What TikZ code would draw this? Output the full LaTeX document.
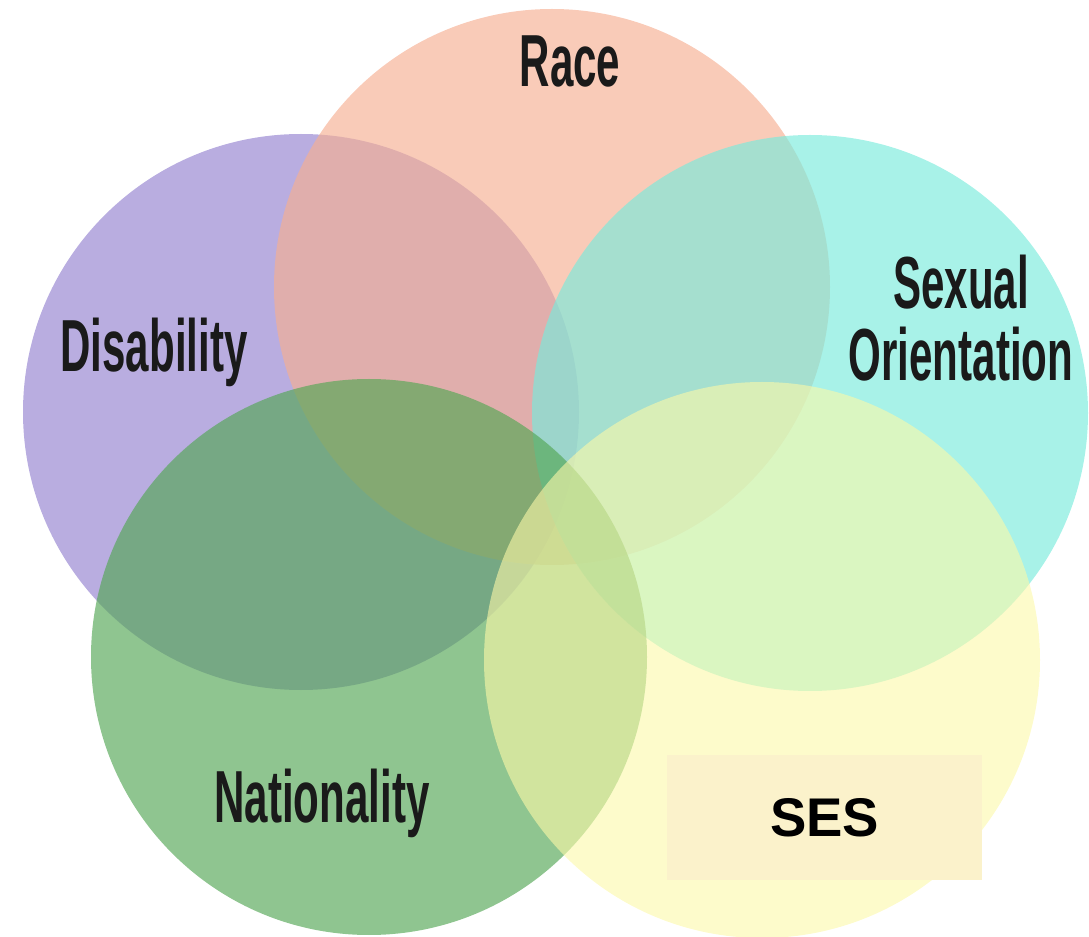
\documentclass[tikz,border=0pt]{standalone}
\usepackage{fontspec}
\usepackage{tikz}
\usetikzlibrary{positioning,shapes.geometric}
\newfontfamily\tallfont[FakeStretch=0.57]{Liberation Sans Bold}
\newfontfamily\sesfont{Liberation Sans Bold}
\definecolor{racecol}{RGB}{246,175,146}
\definecolor{disabcol}{RGB}{147,129,207}
\definecolor{sexcol}{RGB}{121,235,220}
\definecolor{natcol}{RGB}{83,166,84}
\definecolor{sescol}{RGB}{252,248,168}
\definecolor{boxcol}{RGB}{251,242,203}
\definecolor{inkcol}{RGB}{26,26,26}
\tikzset{
  blob/.style={
      circle,
      fill=#1,
      fill opacity=0.65,
      minimum size=11.12cm,
      inner sep=0pt,
  },
  tag/.style={
      text=inkcol,
      font=\tallfont\fontsize{42}{41}\selectfont,
      align=center,
      inner sep=0pt,
  },
  sesbox/.style={
      fill=boxcol,
      minimum width=6.3cm,
      minimum height=2.5cm,
      font=\sesfont\fontsize{31}{33}\selectfont,
  },
}
\begin{document}
\begin{tikzpicture}
  \useasboundingbox (0,0) rectangle (21.78,18.72);
  % circles, back to front
  \node[blob=disabcol] (disabc) at (6.02,10.48) {};
  \node[blob=racecol]  (racec)  at (11.04,12.98) {};
  \node[blob=sexcol]   (sexc)   at (16.2,10.46) {};
  \node[blob=natcol]   (natc)   at (7.38,5.58) {};
  \node[blob=sescol, fill opacity=0.6] (sesc) at (15.24,5.52) {};

  % labels
  \node[tag, anchor=base] (race)  at (11.4,16.98) {Race};
  \node[tag, anchor=base] (disab) at (3.08,11.28) {Disability};
  \node[tag] (sex) at (19.22,12.36) {Sexual\\Orientation};
  \node[tag, anchor=base] (nat)   at (6.44,2.28) {Nationality};
  \node[sesbox] (ses) at (16.49,2.37) {SES};
\end{tikzpicture}
\end{document}
